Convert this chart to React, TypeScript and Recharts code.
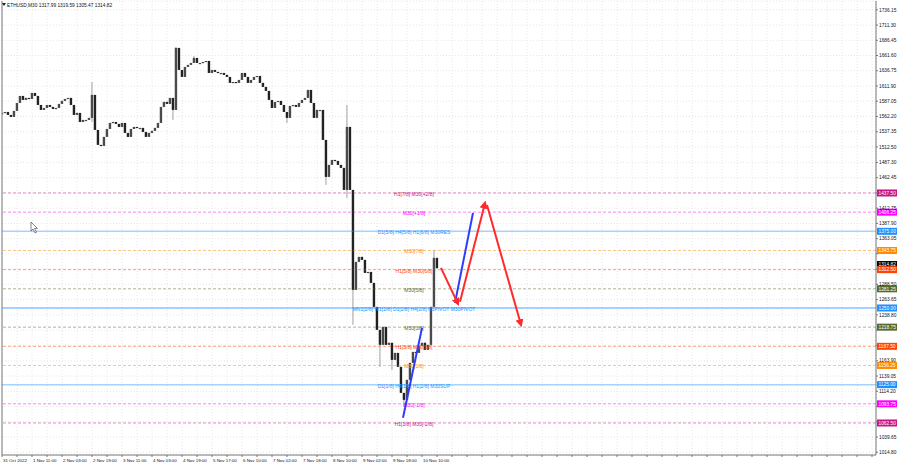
import React from "react";
import {
  ComposedChart,
  Bar,
  Line,
  XAxis,
  YAxis,
  CartesianGrid,
  ReferenceLine,
} from "recharts";

// ETHUSD M30 closes, one candle every 3 time units
const BAR_STEP = 3;
const FIRST_OPEN = 1566.0;
const closes = [
  1568.0, 1569.6, 1564.7, 1561.5, 1571.3, 1584.3, 1595.7, 1589.2, 1592.5, 1590.8,
  1600.6, 1595.7, 1581.0, 1572.9, 1576.1, 1581.0, 1577.8, 1574.5, 1576.1, 1582.7,
  1587.6, 1590.8, 1592.5, 1581.0, 1564.7, 1568.0, 1553.3, 1556.6, 1556.6, 1559.9,
  1597.4, 1540.3, 1515.9, 1514.2, 1528.9, 1541.9, 1551.7, 1553.3, 1550.1, 1545.2,
  1551.7, 1535.4, 1528.9, 1541.9, 1545.2, 1543.6, 1543.6, 1537.0, 1528.9, 1535.4,
  1538.7, 1543.6, 1551.7, 1577.8, 1586.0, 1582.7, 1592.5, 1572.9, 1674.0, 1638.1,
  1626.7, 1643.0, 1646.3, 1649.5, 1657.7, 1649.5, 1649.5, 1651.1, 1652.8, 1633.2,
  1638.1, 1634.9, 1633.2, 1633.2, 1630.0, 1626.7, 1617.0, 1618.5, 1617.0, 1621.8,
  1633.2, 1626.7, 1617.0, 1621.8, 1626.7, 1628.3, 1617.0, 1610.4, 1603.9, 1589.2,
  1576.1, 1585.9, 1587.6, 1581.0, 1569.6, 1559.9, 1579.4, 1581.0, 1577.8, 1584.3,
  1589.2, 1592.5, 1605.5, 1584.3, 1559.9, 1572.9, 1572.9, 1524.0, 1463.7, 1483.3,
  1491.4, 1489.8, 1483.3, 1478.4, 1442.5, 1545.2, 1442.5, 1279.5, 1325.1, 1333.3,
  1328.4, 1307.2, 1308.8, 1290.9, 1251.8, 1214.3, 1189.9, 1219.2, 1189.9, 1193.3,
  1165.4, 1176.8, 1154.0, 1111.6, 1100.2, 1132.8, 1160.5, 1178.4, 1176.8, 1188.2,
  1193.3, 1181.7, 1189.9, 1251.8, 1331.7, 1314.8,
];

// long wicks (candle index -> price)
const wickHigh: Record<number, number> = { 30: 1618.5, 58: 1675.6, 64: 1660.9, 115: 1581.0, 144: 1344.7 };
const wickLow: Record<number, number> = {
  30: 1553.3, 57: 1556.6, 95: 1551.7, 108: 1450.6, 115: 1429.5,
  117: 1222.5, 126: 1154.0, 130: 1149.1, 134: 1088.8,
};

const yTicks = [
  1736.15, 1711.3, 1686.45, 1661.6, 1636.75, 1611.9, 1587.05, 1562.2, 1537.35, 1512.5,
  1487.3, 1462.45, 1437.6, 1412.75, 1387.9, 1363.05, 1338.2, 1313.35, 1288.5, 1263.65,
  1238.8, 1213.95, 1189.1, 1163.9, 1139.05, 1114.2, 1089.35, 1064.5, 1039.65, 1014.8,
];
const hiddenYTicks = [1437.6, 1338.2, 1313.35, 1213.95, 1189.1, 1089.35, 1064.5];

const timeLabels = [
  "31 Oct 2022", "1 Nov 11:00", "2 Nov 03:00", "2 Nov 19:00", "3 Nov 11:00",
  "4 Nov 03:00", "4 Nov 19:00", "5 Nov 17:00", "6 Nov 10:00", "7 Nov 02:00",
  "7 Nov 18:00", "8 Nov 10:00", "9 Nov 02:00", "9 Nov 18:00", "10 Nov 10:00",
];

// Murrey math levels
const levels = [
  { price: 1437.5, text: "H1[7/8] M30[+2/8]", color: "#c71585", dash: true },
  { price: 1406.25, text: "M30[+1/8]", color: "#ff00ff", dash: true },
  { price: 1375.0, text: "D1[5/8] H4[5/8] H1[6/8] M30RES", color: "#1e90ff", dash: false },
  { price: 1343.75, text: "M30[7/8]", color: "#ff8c00", dash: true },
  { price: 1312.5, text: "H1[5/8] M30[6/8]", color: "#ff4500", dash: true },
  { price: 1281.25, text: "M30[5/8]", color: "#556b2f", dash: true },
  { price: 1250.0, text: "MN1[2/8] W1[2/8] D1[2/8] H4[2/8] H1PIVOT M30PIVOT", color: "#1e90ff", dash: false },
  { price: 1218.75, text: "M30[3/8]", color: "#556b2f", dash: true },
  { price: 1187.5, text: "H1[3/8] M30[2/8]", color: "#ff4500", dash: true },
  { price: 1156.25, text: "M30[1/8]", color: "#ff8c00", dash: true },
  { price: 1125.0, text: "D1[1/8] H4[1/8] H1[2/8] M30SUP", color: "#1e90ff", dash: false },
  { price: 1093.75, text: "M30[-1/8]", color: "#ff00ff", dash: true },
  { price: 1062.5, text: "H1[1/8] M30[-2/8]", color: "#c71585", dash: true },
];
const LAST_PRICE = 1314.82;

// forecast strokes (time unit, price)
const blueUp1 = [{ t: 401, p: 1070.9 }, { t: 420, p: 1217.6 }];
const blueUp2 = [{ t: 453, p: 1258.3 }, { t: 471, p: 1405.0 }];
const redDown1 = [{ t: 439, p: 1315.4 }, { t: 456, p: 1256.7 }];
const redUp = [{ t: 458, p: 1260.0 }, { t: 483, p: 1421.3 }];
const redDown2 = [{ t: 485, p: 1418.0 }, { t: 519, p: 1222.5 }];

const candles = closes.map((c, i) => {
  const o = i === 0 ? FIRST_OPEN : closes[i - 1];
  const h = Math.max(o, c, wickHigh[i] ?? -Infinity);
  const l = Math.min(o, c, wickLow[i] ?? Infinity);
  return { t: i * BAR_STEP, o, h, l, c };
});

const X_MAX = 874;
const xTicks = Array.from({ length: 59 }, (_, k) => k * 15);
const FONT = "'Liberation Sans', Arial, sans-serif";
const LABEL_CENTER = 412 / X_MAX;

const Candle = (props: any) => {
  let { x, y, width, height, payload } = props;
  if (height < 0) {
    y += height;
    height = -height;
  }
  const { o, h, l, c } = payload;
  const cx = x + width / 2;
  const span = h - l || 1;
  const yo = y + ((h - o) / span) * height;
  const yc = y + ((h - c) / span) * height;
  return (
    <g>
      <line x1={cx} x2={cx} y1={y} y2={y + height} stroke="#a0a0a0" strokeWidth={1} />
      <rect
        x={cx - 1.2}
        y={Math.min(yo, yc)}
        width={2.4}
        height={Math.max(Math.abs(yc - yo), 1.2)}
        fill={c >= o ? "#4a4a4a" : "#222"}
      />
    </g>
  );
};

const PriceTick = (props: any) => {
  const { x, y, payload } = props;
  if (hiddenYTicks.includes(payload.value)) return null;
  return (
    <text x={x} y={y} dy={1.7} fontSize={4.8} fontFamily={FONT} fill="#111">
      {payload.value.toFixed(2)}
    </text>
  );
};

const TimeTick = (props: any) => {
  const { x, y, payload } = props;
  const k = payload.value / 30;
  if (!Number.isInteger(k) || k >= timeLabels.length) return null;
  return (
    <text x={x + 1} y={y} dy={3.5} fontSize={4.4} fontFamily={FONT} fill="#111">
      {timeLabels[k]}
    </text>
  );
};

const levelLabel = (lv: { text?: string; color: string; price: number; box?: string }) => (p: any) => {
  const vb = p.viewBox || {};
  const ly = vb.y;
  const right = vb.x + vb.width;
  return (
    <g>
      {lv.text && (
        <text
          x={vb.x + vb.width * LABEL_CENTER}
          y={ly + 3}
          textAnchor="middle"
          fontSize={5}
          fontFamily={FONT}
          fill={lv.color}
        >
          {lv.text}
        </text>
      )}
      <rect x={right + 1} y={ly - 3.5} width={20} height={7} fill={lv.box || lv.color} />
      <text x={right + 2.5} y={ly + 1.7} fontSize={4.8} fontFamily={FONT} fill="#fff">
        {lv.price.toFixed(2)}
      </text>
    </g>
  );
};

export default function App() {
  return (
    <div style={{ position: "absolute", left: 0, top: 0, width: 900, height: 468, background: "#fff" }}>
      <svg width={0} height={0} style={{ position: "absolute" }}>
        <defs>
          <marker id="headRed" viewBox="0 0 10 10" refX="7" refY="5" markerWidth="4" markerHeight="4" orient="auto">
            <path d="M0,0 L10,5 L0,10 z" fill="#ff2a2a" />
          </marker>
        </defs>
      </svg>
      <ComposedChart
        width={900}
        height={468}
        data={candles}
        margin={{ top: 1, right: 0, bottom: 0, left: 2 }}
      >
        <CartesianGrid stroke="#e6e6e6" strokeDasharray="1 2" />
        <XAxis
          dataKey="t"
          type="number"
          domain={[0, X_MAX]}
          allowDataOverflow
          ticks={xTicks}
          interval={0}
          height={13}
          tick={<TimeTick />}
          tickSize={2}
          tickMargin={1}
          stroke="#777"
        />
        <YAxis
          orientation="right"
          type="number"
          domain={[1010.3, 1750.5]}
          allowDataOverflow
          ticks={yTicks}
          interval={0}
          width={24}
          tick={<PriceTick />}
          tickSize={2}
          tickMargin={1}
          stroke="#777"
        />
        <ReferenceLine x={0} stroke="#777" />
        <ReferenceLine
          y={LAST_PRICE + 6}
          stroke="#000"
          strokeOpacity={0}
          label={levelLabel({ price: LAST_PRICE, color: "#000", box: "#000" })}
        />
        {levels.map((lv) => (
          <ReferenceLine
            key={lv.price}
            y={lv.price}
            stroke={lv.color}
            strokeOpacity={lv.dash ? 0.5 : lv.price === 1250 ? 0.8 : 0.4}
            strokeWidth={lv.dash ? 1 : lv.price === 1250 ? 1 : 1.5}
            strokeDasharray={lv.dash ? "3 2" : undefined}
            label={levelLabel(lv)}
          />
        ))}
        <Bar dataKey={(d: any) => [d.l, d.h]} barSize={3} shape={<Candle />} isAnimationActive={false} />
        <Line data={blueUp1} dataKey="p" stroke="#2b3cff" strokeWidth={2} dot={false} isAnimationActive={false} />
        <Line data={blueUp2} dataKey="p" stroke="#2b3cff" strokeWidth={2} dot={false} isAnimationActive={false} />
        <Line data={redDown1} dataKey="p" stroke="#ff2a2a" strokeWidth={2} dot={false} markerEnd="url(#headRed)" isAnimationActive={false} />
        <Line data={redUp} dataKey="p" stroke="#ff2a2a" strokeWidth={2} dot={false} markerEnd="url(#headRed)" isAnimationActive={false} />
        <Line data={redDown2} dataKey="p" stroke="#ff2a2a" strokeWidth={2} dot={false} markerEnd="url(#headRed)" isAnimationActive={false} />
      </ComposedChart>
      <svg width={900} height={468} style={{ position: "absolute", left: 0, top: 0, pointerEvents: "none" }}>
        <path d="M2,3 L6,3 L4,6 z" fill="#222" />
        <text x={7} y={6.8} fontSize={4.8} fontFamily={FONT} fill="#111">
          ETHUSD,M30  1317.99 1319.59 1305.47 1314.82
        </text>
        <path d="M31,222 L31,231 L33,229 L35,233 L36.5,232.3 L34.6,228.4 L37.4,228.4 z" fill="#fff" stroke="#333" strokeWidth={0.6} />
      </svg>
    </div>
  );
}
